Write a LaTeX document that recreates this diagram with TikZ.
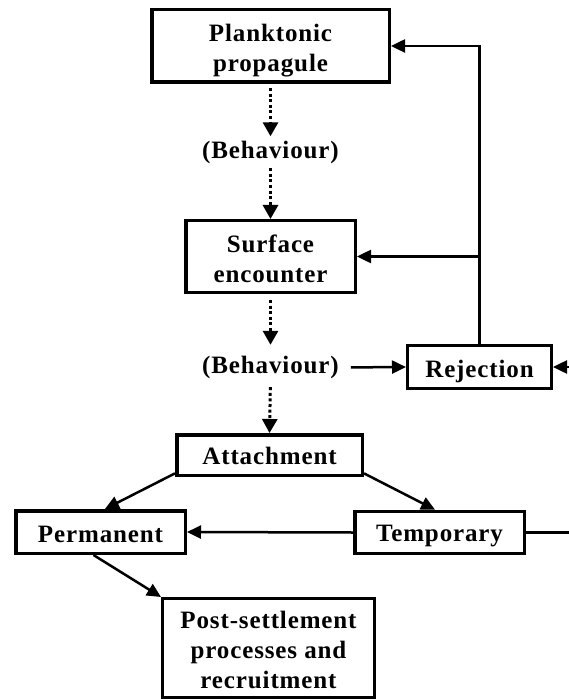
\documentclass[tikz,border=0pt]{standalone}
\usepackage{fontspec}
\newfontfamily\labfont{Liberation Serif}[LetterSpace=3.5]
\usetikzlibrary{arrows.meta}
\newcommand{\lines}[1]{\begin{tabular}[t]{@{}c@{}}#1\end{tabular}}
\begin{document}
\begin{tikzpicture}[x=1pt,y=-1pt,
  box/.style={draw=black, line width=3.5pt, rectangle, inner sep=0pt,
    font=\labfont\bfseries\fontsize{25}{30}\selectfont},
  thinbox/.style={box, line width=3pt},
  lab/.style={inner sep=0pt, text height=16pt, text depth=5pt, anchor=base,
    font=\labfont\bfseries\fontsize{25}{30}\selectfont},
  conn/.style={line width=2.5pt, -{Triangle[length=14pt,width=13pt]}},
  plain/.style={line width=2.5pt},
  dotarr/.style={line width=3pt, dash pattern=on 3pt off 2.6pt,
    -{Triangle[length=14pt,width=15pt]}}
]
\useasboundingbox (0,0) rectangle (569,700);

\node[box, minimum width=237.5pt, minimum height=72.5pt, text height=0pt, text depth=8.6pt] (plank) at (270.5,46) {\lines{Planktonic\\propagule}};
\node[lab] (beh1) at (270.5,158.5) {(Behaviour)};
\node[box, minimum width=169.5pt, minimum height=71.5pt, text height=0pt, text depth=7.5pt] (surf) at (270.5,256.5) {\lines{Surface\\encounter}};
\node[lab] (beh2) at (270.5,373) {(Behaviour)};
\node[thinbox, minimum width=144pt, minimum height=43pt, text height=20pt, text depth=0pt] (rej) at (479.5,367) {Rejection};
\node[box, minimum width=185.5pt, minimum height=40.5pt, text height=18pt, text depth=0pt] (att) at (269.5,455) {Attachment};
\node[box, minimum width=169.5pt, minimum height=42.5pt, text height=20pt, text depth=0pt] (perm) at (100.5,532) {Permanent};
\node[box, minimum width=169.5pt, minimum height=42pt, text height=18.4pt, text depth=0pt] (temp) at (439.5,532.5) {Temporary};
\node[thinbox, minimum width=212pt, minimum height=99pt, text height=0pt, text depth=40pt] (post) at (268.5,648) {\lines{Post-settlement\\processes and\\recruitment}};

\coordinate (edgeT) at (569,532.5);
\coordinate (edgeR) at (569,367);

% dotted behaviour arrows
\draw[dotarr, shorten <=4pt, shorten >=6pt] (plank.south) -- (beh1.north);
\draw[dotarr, shorten <=4.5pt] (beh1.south) -- (surf.north);
\draw[dotarr, shorten <=6pt, shorten >=12pt] (surf.south) -- (beh2.north);
\draw[dotarr, shorten <=9pt] (beh2.south) -- (att.north);

% rejection loop
\draw[conn, shorten <=12pt] (beh2.east) -- (rej.west);
\draw[conn] (rej.north) |- (plank.east);
\draw[conn] (rej.north |- surf.east) -- (surf.east);
\draw[conn] (edgeR) -- (rej.east);

% attachment branches
\draw[conn] (att.191) -- (perm.79);
\draw[conn] (att.349) -- (temp.101);
\draw[conn] (temp.west) -- (perm.east);
\draw[plain] (temp.east) -- (edgeT);
\draw[conn] (perm.253) -- (post.north west);
\end{tikzpicture}
\end{document}
